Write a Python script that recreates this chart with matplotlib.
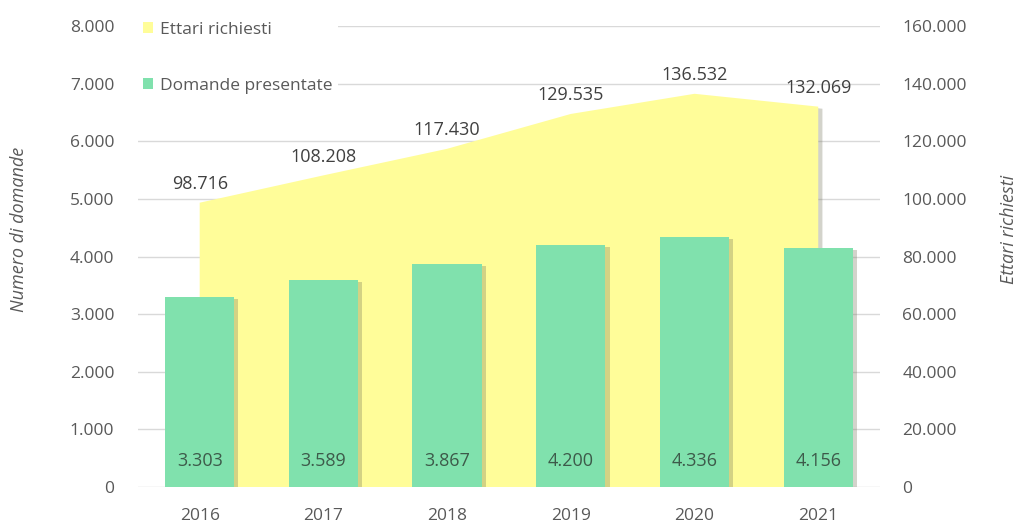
import matplotlib.pyplot as plt
import matplotlib.patheffects as pe
from matplotlib.patches import Patch

years = ["2016", "2017", "2018", "2019", "2020", "2021"]
domande = [3303, 3589, 3867, 4200, 4336, 4156]
ettari = [98716, 108208, 117430, 129535, 136532, 132069]

left_ticks = [0, 1000, 2000, 3000, 4000, 5000, 6000, 7000, 8000]
right_ticks = [0, 20000, 40000, 60000, 80000, 100000, 120000, 140000, 160000]


def fmt(v):
    # italian thousands separator
    return f"{v:,}".replace(",", ".")


plt.rcParams['font.family'] = ['Open Sans', 'DejaVu Sans']
text_col = '#595959'
yellow = '#FFFD99'
green = '#80E1AD'

fig = plt.figure(figsize=(10.21, 5.24), dpi=100)
ax2 = fig.add_axes([0.135, 0.0706, 0.727, 0.8794])
ax1 = ax2.twinx()
ax1.set_zorder(ax2.get_zorder() + 1)
ax1.patch.set_visible(False)

x = list(range(len(years)))
shadow = [pe.withSimplePatchShadow(offset=(3, -1.5), shadow_rgbFace='#6f6f55', alpha=0.3)]

# area for ettari on the right scale
ax2.fill_between(x, 0, ettari, color=yellow, zorder=2, linewidth=0, path_effects=shadow)
for xi, v in zip(x, ettari):
    ax2.annotate(fmt(v), (xi, v), xytext=(0, 7), textcoords='offset points',
                 ha='center', va='bottom', fontsize=13, color='#404040')
ax2.set_ylim(0, 160000)
ax2.set_yticks(right_ticks)
ax2.set_yticklabels([fmt(t) for t in right_ticks])
ax2.grid(axis='y', color='#d9d9d9', linewidth=1, zorder=0)
ax2.set_axisbelow(True)

# bars for domande on the left scale
bars = ax1.bar(x, domande, width=0.56, color=green, zorder=3, path_effects=shadow)
for xi, v in zip(x, domande):
    ax1.text(xi, 450, fmt(v), ha='center', va='center', fontsize=13, color='#3d5a4a')
ax1.set_ylim(0, 8000)
ax1.set_xlim(-0.5, 5.5)

# left scale belongs to ax1, right scale to ax2
ax1.yaxis.tick_left()
ax1.yaxis.set_label_position('left')
ax2.yaxis.tick_right()
ax2.yaxis.set_label_position('right')
ax1.set_yticks(left_ticks)
ax1.set_yticklabels([fmt(t) for t in left_ticks])
ax2.set_xticks(x)
ax2.set_xticklabels(years)

for ax in (ax1, ax2):
    for s in ax.spines.values():
        s.set_visible(False)
    ax.tick_params(length=0, labelsize=12.5, colors=text_col)
ax1.tick_params(axis='y', pad=17)
ax2.tick_params(axis='y', pad=16)
ax2.tick_params(axis='x', pad=15)

ax1.set_ylabel("Numero di domande", fontsize=13, style='italic', color=text_col)
ax2.set_ylabel("Ettari richiesti", fontsize=13, style='italic', color=text_col)
ax1.yaxis.set_label_coords(-0.148, 0.56)
ax2.yaxis.set_label_coords(1.161, 0.56)

handles = [Patch(facecolor=yellow, edgecolor='none', label="Ettari richiesti"),
           Patch(facecolor=green, edgecolor='none', label="Domande presentate")]
leg = ax1.legend(handles=handles, loc='upper left', bbox_to_anchor=(-0.012, 1.04),
                 frameon=True, facecolor='white', edgecolor='white', framealpha=1,
                 fontsize=12.5, labelspacing=2.3, handlelength=0.6, handleheight=0.6,
                 handletextpad=0.4, borderpad=0.3, borderaxespad=0.5, labelcolor=text_col)
leg.get_frame().set_linewidth(0)

fig.savefig("out.png", dpi=100)
